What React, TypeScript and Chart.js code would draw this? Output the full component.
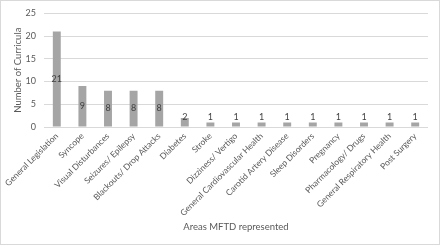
import React, { useEffect, useRef } from "react";
import { Chart, registerables } from "chart.js";

Chart.register(...registerables);

const categories = [
  "General Legislation",
  "Syncope",
  "Visual Disturbances",
  "Seizures/ Epilepsy",
  "Blackouts/ Drop Attacks",
  "Diabetes",
  "Stroke",
  "Dizziness/ Vertigo",
  "General Cardiovascular Health",
  "Carotid Artery Disease",
  "Sleep Disorders",
  "Pregnancy",
  "Pharmacology/ Drugs",
  "General Respiratory Health",
  "Post Surgery",
];
const curricula = [21, 9, 8, 8, 8, 2, 1, 1, 1, 1, 1, 1, 1, 1, 1];
const yTicks = [0, 5, 10, 15, 20, 25];

const FONT = "Lato, 'Open Sans', sans-serif";

const labelPlugin = {
  id: "barLabels",
  beforeDraw(chart: any) {
    const ctx = chart.ctx;
    ctx.save();
    ctx.fillStyle = "#ffffff";
    ctx.fillRect(0, 0, chart.width, chart.height);
    ctx.strokeStyle = "#d9d9d9";
    ctx.lineWidth = 1;
    ctx.strokeRect(0.5, 0.5, chart.width - 1, chart.height - 1);
    ctx.restore();
  },
  afterDatasetsDraw(chart: any) {
    const ctx = chart.ctx;
    const meta = chart.getDatasetMeta(0);
    ctx.save();
    ctx.font = `9px ${FONT}`;
    ctx.fillStyle = "#404040";
    ctx.textAlign = "center";
    ctx.textBaseline = "middle";
    meta.data.forEach((bar: any, i: number) => {
      const center = (bar.y + bar.base) / 2;
      const y = Math.min(center, bar.base - 9);
      ctx.fillText(String(curricula[i]), bar.x, y);
    });
    ctx.restore();
  },
};

export default function App() {
  const ref = useRef<HTMLCanvasElement | null>(null);
  useEffect(() => {
    document.body.style.margin = "0";
    if (!ref.current) return;
    const chart = new Chart(ref.current, {
      type: "bar",
      data: {
        labels: categories,
        datasets: [
          {
            data: curricula,
            backgroundColor: "#a5a5a5",
            borderWidth: 0,
            barPercentage: 0.31,
            categoryPercentage: 1,
          },
        ],
      },
      options: {
        animation: false,
        responsive: false,
        maintainAspectRatio: false,
        layout: { padding: { left: 8, right: 12, top: 10, bottom: 8 } },
        plugins: { legend: { display: false }, tooltip: { enabled: false } },
        scales: {
          x: {
            grid: { display: false, drawTicks: false },
            border: { display: false },
            ticks: {
              color: "#595959",
              font: { size: 8.5, family: FONT },
              maxRotation: 45,
              minRotation: 45,
              autoSkip: false,
              padding: 4,
            },
            title: {
              display: true,
              text: "Areas MFTD represented",
              color: "#595959",
              font: { size: 9.5, family: FONT },
              padding: { top: 4, bottom: 4 },
            },
            afterFit(scale: any) {
              scale.height = 110;
            },
          },
          y: {
            min: 0,
            max: 25,
            grid: { color: "#d9d9d9", drawTicks: false },
            border: { display: false },
            afterBuildTicks(scale: any) {
              scale.ticks = yTicks.map((v) => ({ value: v }));
            },
            ticks: {
              color: "#595959",
              font: { size: 9, family: FONT },
              padding: 8,
            },
            title: {
              display: true,
              text: "Number of Curricula",
              color: "#595959",
              font: { size: 9.5, family: FONT },
              padding: { top: 4, bottom: 2 },
            },
            afterFit(scale: any) {
              scale.width = 36;
            },
          },
        },
      },
      plugins: [labelPlugin],
    });
    return () => chart.destroy();
  }, []);
  return (
    <div style={{ position: "absolute", left: 0, top: 0, width: 440, height: 245 }}>
      <canvas ref={ref} width={440} height={245} style={{ width: 440, height: 245 }} />
    </div>
  );
}
